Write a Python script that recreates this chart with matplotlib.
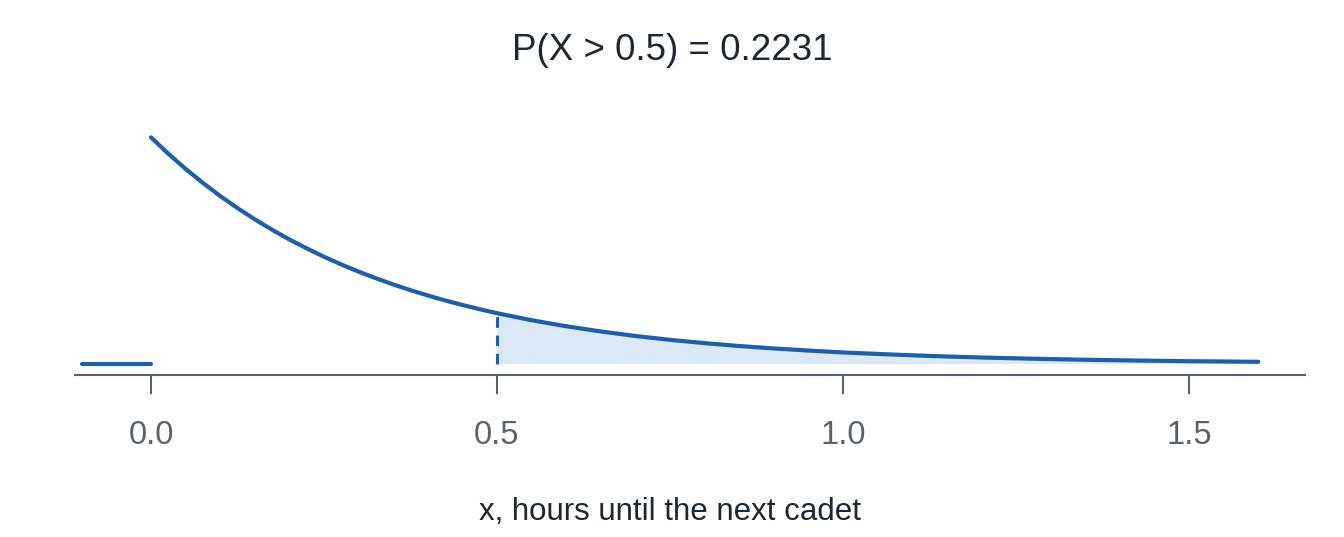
import numpy as np
import matplotlib
matplotlib.use("Agg")
from matplotlib import pyplot as plt

plt.rcParams['font.family'] = ['Liberation Sans', 'DejaVu Sans']

# density (x in hours)
x_vals = [0.000, 0.025, 0.050, 0.075, 0.100, 0.125, 0.150, 0.175, 0.200, 0.225,
          0.250, 0.275, 0.300, 0.325, 0.350, 0.375, 0.400, 0.425, 0.450, 0.475,
          0.50, 0.55, 0.60, 0.65, 0.70, 0.75, 0.80, 0.85, 0.90, 0.95,
          1.00, 1.05, 1.10, 1.15, 1.20, 1.25, 1.30, 1.35, 1.40, 1.45,
          1.50, 1.55, 1.60]
dens_vals = [3.000, 2.783, 2.582, 2.396, 2.222, 2.062, 1.913, 1.775, 1.646, 1.528,
             1.417, 1.315, 1.220, 1.132, 1.050, 0.974, 0.904, 0.838, 0.778, 0.722,
             0.669, 0.576, 0.496, 0.427, 0.367, 0.316, 0.272, 0.234, 0.202, 0.174,
             0.149, 0.129, 0.111, 0.095, 0.082, 0.071, 0.061, 0.052, 0.045, 0.039,
             0.033, 0.029, 0.025]
left_x = [-0.1, 0.0]
left_dens = [0.0, 0.0]
cutoff = 0.5
cutoff_dens = 0.669
x_ticks = [0.0, 0.5, 1.0, 1.5]
x_tick_labels = ["0.0", "0.5", "1.0", "1.5"]
title_txt = "P(X > 0.5) = 0.2231"
xlabel_txt = "x, hours until the next cadet"

blue = "#1f5ea8"
fill_blue = "#dbe8f5"
axis_grey = "#5a606c"

x = np.array(x_vals)
d = np.array(dens_vals)

fig = plt.figure(figsize=(13.44, 5.37), dpi=100)
ax = fig.add_axes([75/1344, 1-375/537, (1305-75)/1344, (375-126)/537])

mask = x >= cutoff
ax.fill_between(x[mask], 0, d[mask], color=fill_blue, linewidth=0)
ax.plot(x, d, color=blue, linewidth=3, solid_capstyle='round',
        solid_joinstyle='round')
ax.plot(left_x, left_dens, color=blue, linewidth=3, solid_capstyle='round')
ax.plot([cutoff, cutoff], [0, cutoff_dens], color=blue, linewidth=2.2,
        dashes=(3.5, 2.5))

ax.set_xlim(-0.1098, 1.6676)
ax.set_ylim(-0.15, 3.15)
for s in ['top', 'right', 'left']:
    ax.spines[s].set_visible(False)
ax.spines['bottom'].set_color(axis_grey)
ax.spines['bottom'].set_linewidth(1.5)
ax.set_yticks([])
ax.set_xticks(x_ticks)
ax.set_xticklabels(x_tick_labels)
ax.tick_params(axis='x', length=13.5, width=1.5, color=axis_grey,
               labelcolor=axis_grey, labelsize=23.5, pad=19)

fig.text(0.5, 1-50/537, title_txt, ha='center', va='center',
         fontsize=26.5, color="#1f2533")
fig.text(670/1344, 1-512/537, xlabel_txt, ha='center', va='center',
         fontsize=22.5, color="#1f2533")

fig.savefig("out.png", dpi=100)
